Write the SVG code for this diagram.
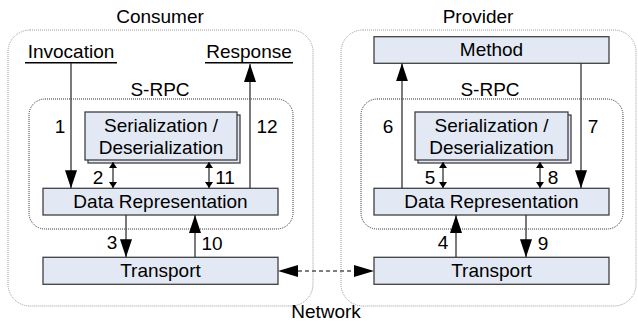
<svg xmlns="http://www.w3.org/2000/svg" width="638" height="323" viewBox="0 0 638 323">
<style>
text{font-family:"Liberation Sans",Arial,sans-serif;font-size:19px;fill:#000;text-anchor:middle}
.box{fill:#e2e9f5;stroke:#404040;stroke-width:1.3}
.back{fill:#e2e9f5;stroke:#404040;stroke-width:1.3}
.outer{fill:none;stroke:#9a9a9a;stroke-width:1;stroke-dasharray:1 1}
.srpc{fill:none;stroke:#333;stroke-width:1;stroke-dasharray:1 1}
.ln{stroke:#333;stroke-width:1.3;fill:none}
.ul{stroke:#000;stroke-width:1.4}
.dash{stroke:#555;stroke-width:1.3;stroke-dasharray:4 3;fill:none}
</style>
<defs>
<marker id="ah" markerUnits="userSpaceOnUse" markerWidth="20" markerHeight="14" refX="18" refY="6" orient="auto">
<path d="M0,0 L18,6 L0,12 Z" fill="#000"/>
</marker>
<marker id="sh" markerUnits="userSpaceOnUse" markerWidth="8" markerHeight="10" refX="6" refY="4" orient="auto-start-reverse">
<path d="M0,0 L6,4 L0,8 Z" fill="#000"/>
</marker>
</defs>

<g id="consumer">
<rect class="outer" x="8" y="30" width="305" height="276" rx="22"/>
<text x="160" y="23">Consumer</text>
</g>
<g id="provider">
<rect class="outer" x="341" y="30" width="295" height="276" rx="22"/>
<text x="478" y="23">Provider</text>
</g>
<g id="invocation">
<text x="71" y="58">Invocation</text>
<line class="ul" x1="25" y1="62.7" x2="117" y2="62.7"/>
</g>
<g id="response">
<text x="249" y="58">Response</text>
<line class="ul" x1="205" y1="62.7" x2="293" y2="62.7"/>
</g>
<g id="srpc-consumer">
<rect class="srpc" x="29" y="99" width="264" height="130" rx="16"/>
<text x="160" y="95.7">S-RPC</text>
</g>
<g id="srpc-provider">
<rect class="srpc" x="361" y="99" width="262" height="130" rx="16"/>
<text x="490" y="95.7">S-RPC</text>
</g>
<g id="serial-consumer">
<rect class="back" x="88" y="115" width="152" height="48"/>
<rect class="box" x="85" y="112" width="152" height="48"/>
<text x="161" y="131.5">Serialization /</text>
<text x="161" y="153.5">Deserialization</text>
</g>
<g id="serial-provider">
<rect class="back" x="418" y="115" width="153" height="48"/>
<rect class="box" x="415" y="112" width="153" height="48"/>
<text x="491.5" y="131.5">Serialization /</text>
<text x="491.5" y="153.5">Deserialization</text>
</g>
<g id="datarep-consumer">
<rect class="box" x="43" y="188.3" width="235" height="26.7"/>
<text x="160.5" y="207.7">Data Representation</text>
</g>
<g id="datarep-provider">
<rect class="box" x="374" y="188.3" width="235" height="26.7"/>
<text x="491.5" y="207.7">Data Representation</text>
</g>
<g id="transport-consumer">
<rect class="box" x="43" y="257.3" width="235" height="27"/>
<text x="160.5" y="276.7">Transport</text>
</g>
<g id="transport-provider">
<rect class="box" x="374" y="257.3" width="235" height="27"/>
<text x="491.5" y="276.7">Transport</text>
</g>
<g id="method">
<rect class="box" x="374" y="36.7" width="235" height="26.6"/>
<text x="491.5" y="55.7">Method</text>
</g>
<g id="network">
<text x="326" y="318">Network</text>
</g>

<g id="connectors">
<line class="ln" x1="71" y1="63" x2="71" y2="188.3" marker-end="url(#ah)"/>
<line class="ln" x1="250" y1="188.3" x2="250" y2="64" marker-end="url(#ah)"/>
<line class="ln" x1="113" y1="162" x2="113" y2="188" marker-start="url(#sh)" marker-end="url(#sh)"/>
<line class="ln" x1="209" y1="162" x2="209" y2="188" marker-start="url(#sh)" marker-end="url(#sh)"/>
<line class="ln" x1="126" y1="215" x2="126" y2="257.3" marker-end="url(#ah)"/>
<line class="ln" x1="195" y1="257.3" x2="195" y2="215" marker-end="url(#ah)"/>
<line class="ln" x1="402" y1="188.3" x2="402" y2="63.3" marker-end="url(#ah)"/>
<line class="ln" x1="581" y1="63.3" x2="581" y2="188.3" marker-end="url(#ah)"/>
<line class="ln" x1="443" y1="162" x2="443" y2="188" marker-start="url(#sh)" marker-end="url(#sh)"/>
<line class="ln" x1="540" y1="162" x2="540" y2="188" marker-start="url(#sh)" marker-end="url(#sh)"/>
<line class="ln" x1="456" y1="257.3" x2="456" y2="215" marker-end="url(#ah)"/>
<line class="ln" x1="526" y1="215" x2="526" y2="257.3" marker-end="url(#ah)"/>
<line class="dash" x1="298" y1="271" x2="354" y2="271"/>
<path d="M278,271 L298,265 L298,277 Z" fill="#000"/>
<path d="M374,271 L354,265 L354,277 Z" fill="#000"/>
<text x="60" y="133">1</text>
<text x="267" y="133">12</text>
<text x="98" y="184">2</text>
<text x="225" y="184">11</text>
<text x="112" y="249">3</text>
<text x="212" y="250">10</text>
<text x="388" y="133">6</text>
<text x="593" y="133">7</text>
<text x="430" y="184">5</text>
<text x="553" y="184">8</text>
<text x="443" y="249">4</text>
<text x="543" y="250">9</text>
</g>
</svg>
